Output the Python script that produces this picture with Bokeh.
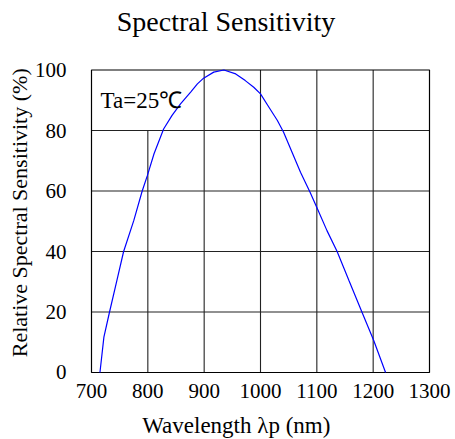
import math
from bokeh.plotting import figure
from bokeh.models import Label, FixedTicker, Range1d
from bokeh.embed import file_html
from bokeh.resources import INLINE

# data
wavelength = [715, 722, 732, 745, 757, 775, 790, 799, 811, 828, 843, 858, 876,
              888, 899, 917, 935, 956, 973, 988, 1000, 1015, 1030, 1041, 1056,
              1071, 1088, 1101, 1118, 1136, 1157, 1180, 1201, 1222]
sensitivity = [0, 11.7, 20, 30.4, 40, 50.2, 60, 65, 72.3, 80.5, 85, 88.8, 92.7,
               95.4, 97.3, 99.3, 100, 98.7, 96.5, 94.3, 92.1, 87.7, 83.3, 79.4, 72.8,
               66.2, 59.6, 54.1, 46.9, 40, 30.4, 20, 10.6, 0]

x_ticks = [700, 800, 900, 1000, 1100, 1200, 1300]
y_ticks = [0, 20, 40, 60, 80, 100]

title_text = "Spectral Sensitivity"
x_label = "Wavelength λp (nm)"
y_label = "Relative Spectral Sensitivity (%)"
note_text = "Ta=25℃"

FONT = "Liberation Serif"

# the frame covers the whole canvas; the data box is drawn inside it
p = figure(width=455, height=439, output_backend="svg", toolbar_location=None,
           x_range=Range1d(538.46, 1346.15), y_range=Range1d(-22.15, 122.98),
           min_border=0, title=None)
p.background_fill_color = "white"
p.border_fill_color = "white"
p.outline_line_color = None
p.xgrid.visible = False
p.ygrid.visible = False

# grid lines (the 800 line stops under the label box)
vx = x_ticks[1:-1]
vy1 = [y_ticks[-2] if x == x_ticks[1] else y_ticks[-1] for x in vx]
p.segment(x0=vx, y0=[y_ticks[0]] * len(vx), x1=vx, y1=vy1,
          line_color="#222222", line_width=1.1)
hy = y_ticks[1:-1]
p.segment(x0=[x_ticks[0]] * len(hy), y0=hy, x1=[x_ticks[-1]] * len(hy), y1=hy,
          line_color="#222222", line_width=1.1)
# box around the data area
p.quad(left=[x_ticks[0]], right=[x_ticks[-1]], bottom=[y_ticks[0]], top=[y_ticks[-1]],
       fill_color=None, line_color="black", line_width=1.2)

p.line(wavelength, sensitivity, line_color="#0000ff", line_width=1.2)

xa = p.xaxis[0]
ya = p.yaxis[0]
xa.fixed_location = y_ticks[0]
ya.fixed_location = x_ticks[0]
xa.bounds = (x_ticks[0], x_ticks[-1])
ya.bounds = (y_ticks[0], y_ticks[-1])
for ax in (xa, ya):
    ax.axis_line_color = None
    ax.major_tick_line_color = None
    ax.minor_tick_line_color = None
    ax.major_label_text_font = FONT
    ax.major_label_text_font_size = "21px"
    ax.major_label_text_color = "black"
xa.ticker = FixedTicker(ticks=x_ticks)
ya.ticker = FixedTicker(ticks=y_ticks)
xa.major_label_standoff = 6
ya.major_label_standoff = 19

# chart title, axis titles and note as text labels
p.add_layout(Label(x=938.7, y=116.1, text=title_text, text_font=FONT,
                   text_font_size="28px", text_align="center",
                   text_baseline="alphabetic", text_color="black"))
p.add_layout(Label(x=957.0, y=-17.4, text=x_label, text_font=FONT,
                   text_font_size="23px", text_align="center",
                   text_baseline="alphabetic", text_color="black"))
p.add_layout(Label(x=572.1, y=52.8, text=y_label, text_font=FONT,
                   text_font_size="22px", text_align="center",
                   text_baseline="alphabetic", angle=math.pi / 2,
                   text_color="black"))
p.add_layout(Label(x=716, y=89.8, text=note_text, text_font=FONT,
                   text_font_size="23px", text_baseline="middle",
                   text_align="left", text_color="black"))

open("out.html", "w").write(file_html(p, INLINE))
